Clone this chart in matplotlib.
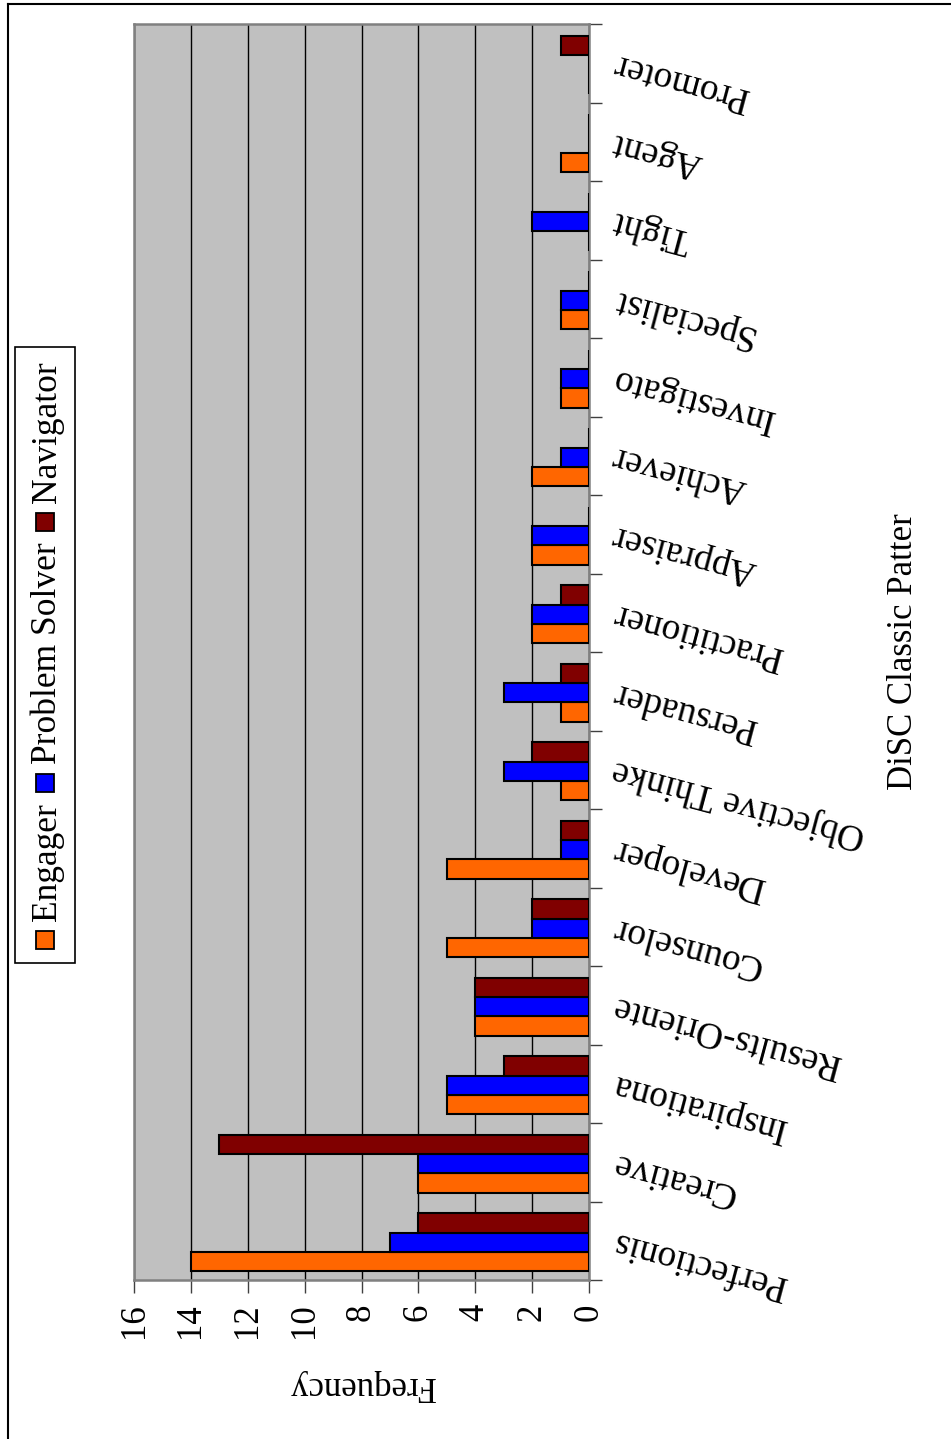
import numpy as np
import matplotlib
matplotlib.use("Agg")
import matplotlib.pyplot as plt
from matplotlib.patches import Rectangle
from matplotlib.lines import Line2D

plt.rcParams["font.family"] = ["Liberation Serif", "DejaVu Serif"]

# DiSC classic pattern counts per group
categories = ["Perfectionis", "Creative", "Inspirationa", "Results-Oriente",
              "Counselor", "Developer", "Objective Thinke", "Persuader",
              "Practitioner", "Appraiser", "Achiever", "Investigato",
              "Specialist", "Tight", "Agent", "Promoter"]
engager = [14, 6, 5, 4, 5, 5, 1, 1, 2, 2, 2, 1, 1, 0, 1, 0]
problem_solver = [7, 6, 5, 4, 2, 1, 3, 3, 2, 2, 1, 1, 1, 2, 0, 0]
navigator = [6, 13, 3, 4, 2, 1, 2, 1, 1, 0, 0, 0, 0, 0, 0, 1]
series_names = ["Engager", "Problem Solver", "Navigator"]
value_ticks = [0, 2, 4, 6, 8, 10, 12, 14, 16]

colors = ["#FF6600", "#0000FF", "#800000"]
FS = 25
FS_CAT = 27
FS_LEG = 25.5

W, H = 951, 1439
fig = plt.figure(figsize=(W / 100, H / 100), dpi=100)

def fx(px):
    return px / W

def fy(py):
    return 1 - py / H

ax = fig.add_axes([fx(134), fy(1280), fx(589) - fx(134), fy(24) - fy(1280)])
ax.set_facecolor("#C0C0C0")

y = np.arange(len(categories))
bh = 0.245
offsets = [-0.02 - bh, -0.02, -0.02 + bh]
for vals, off, col, name in zip([engager, problem_solver, navigator], offsets, colors, series_names):
    ax.barh(y + off, vals, height=bh, color=col, edgecolor="black", linewidth=1.5,
            label=name, zorder=3)

ax.set_xlim(16, 0)
ax.set_ylim(-0.5, len(categories) - 0.5)

# value axis (bottom)
ax.set_xticks(value_ticks)
ax.tick_params(axis="x", direction="out", length=9, width=1, color="#404040",
               labelsize=FS, labelrotation=90, pad=8)
ax.xaxis.grid(True, color="black", linewidth=1, zorder=1)
ax.set_axisbelow(True)
ax.set_xlabel("Frequency", fontsize=FS, rotation=180, labelpad=22)

# category axis (right)
ax.yaxis.tick_right()
ax.set_yticks(y)
ax.set_yticklabels(categories)
ax.set_yticks(np.arange(-0.5, len(categories), 1.0), minor=True)
ax.tick_params(axis="y", which="major", length=0, pad=17, labelsize=FS_CAT)
ax.tick_params(axis="y", which="minor", length=9, width=1, color="#404040",
               right=True, left=False)
for lab in ax.get_yticklabels():
    lab.set_rotation(165)
    lab.set_rotation_mode("anchor")
    lab.set_horizontalalignment("right")
    lab.set_verticalalignment("center")

for sp in ax.spines.values():
    sp.set_color("#808080")
    sp.set_linewidth(1.8)

# chart title along the right side
fig.text(fx(903), fy(652), "DiSC Classic Patter", rotation=90, fontsize=FS,
         ha="center", va="center")

# legend box, laid out bottom to top
fig.add_artist(Rectangle((fx(15), fy(963)), fx(75) - fx(15), fy(347) - fy(963),
                         transform=fig.transFigure, facecolor="white",
                         edgecolor="black", linewidth=1.2))
renderer = fig.canvas.get_renderer()
cur = 949
sq = 18
for name, col in zip(series_names, colors):
    fig.add_artist(Rectangle((fx(36), fy(cur)), fx(sq), fy(cur - sq) - fy(cur),
                             transform=fig.transFigure, facecolor=col,
                             edgecolor="black", linewidth=1.3))
    cur -= sq + 10
    t = fig.text(fx(47.5), fy(cur), name, rotation=90, fontsize=FS_LEG,
                 ha="center", va="bottom")
    ext = t.get_window_extent(renderer)
    cur -= ext.height + 11

# page border
fig.add_artist(Line2D([fx(8), 1], [fy(4), fy(4)], transform=fig.transFigure,
                      color="black", linewidth=1.5))
fig.add_artist(Line2D([fx(8), fx(8)], [fy(4), 0], transform=fig.transFigure,
                      color="black", linewidth=1.5))

fig.savefig("out.png", dpi=100)
